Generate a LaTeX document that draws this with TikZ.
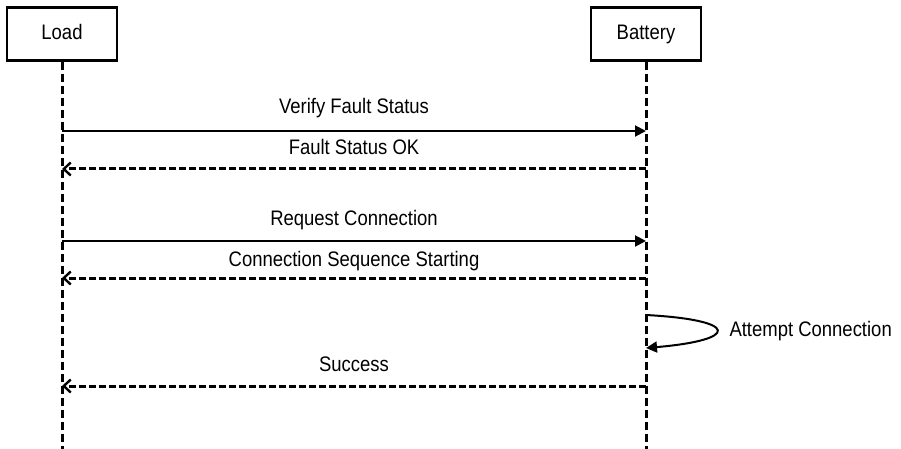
\documentclass[tikz,border=0pt]{standalone}
\usepackage{fontspec}
\setmainfont[FakeStretch=0.88]{Liberation Sans}
\usetikzlibrary{arrows.meta,positioning}
\tikzset{
  actor/.style={rectangle, draw, line width=2.2pt, minimum width=110pt, minimum height=53pt, text height=15pt, text depth=4pt, font=\fontsize{21}{24}\selectfont},
  lifeline/.style={line width=3pt, dash pattern=on 8pt off 4pt},
  callmsg/.style={line width=2pt, -{Triangle[length=11pt,width=11pt]}},
  replymsg/.style={line width=3pt, dash pattern=on 7pt off 3pt, -{Straight Barb[length=7pt,width=13pt,line width=2.4pt]}},
  msglabel/.style={font=\fontsize{21}{24}\selectfont, inner sep=0pt, anchor=base},
}
\begin{document}
\begin{tikzpicture}[x=1pt, y=-1pt]
  \useasboundingbox (0,0) rectangle (901,449);

  % --- Participants ---
  \node[actor] (load) at (62,34) {Load};
  \node[actor] (battery) at (646,34) {Battery};

  % lifeline ends
  \coordinate (loadEnd) at (62,449);
  \coordinate (batEnd) at (646,449);
  \draw[lifeline] (load.south) -- (loadEnd);
  \draw[lifeline] (battery.south) -- (batEnd);

  % message anchors on the lifelines
  \coordinate (L1) at (62,131);  \coordinate (B1) at (646,131);
  \coordinate (L2) at (62,169);  \coordinate (B2) at (646,169);
  \coordinate (L3) at (62,241);  \coordinate (B3) at (646,241);
  \coordinate (L4) at (62,278);  \coordinate (B4) at (646,278);
  \coordinate (L5) at (62,386);  \coordinate (B5) at (646,386);

  % Verify / reply
  \draw[callmsg] (L1) -- (B1)
    node[msglabel, midway, yshift=17pt] {Verify Fault Status};
  \draw[replymsg] (B2) -- (L2)
    node[msglabel, midway, yshift=14pt] {Fault Status OK};

  % Connection request / reply
  \draw[callmsg] (L3) -- (B3)
    node[msglabel, midway, yshift=16pt] {Request Connection};
  \draw[replymsg] (B4) -- (L4)
    node[msglabel, midway, yshift=12pt] {Connection Sequence Starting};

  % Self call on battery
  \coordinate (selfOut) at (646,315);
  \coordinate (selfIn) at (646,348);
  \draw[callmsg] (selfOut) .. controls (740,320) and (740,340) .. (selfIn)
    node[msglabel, pos=0.5, anchor=base west, xshift=12pt, yshift=-6pt] {Attempt Connection};

  % Success
  \draw[replymsg] (B5) -- (L5)
    node[msglabel, midway, yshift=15pt] {Success};
\end{tikzpicture}
\end{document}
